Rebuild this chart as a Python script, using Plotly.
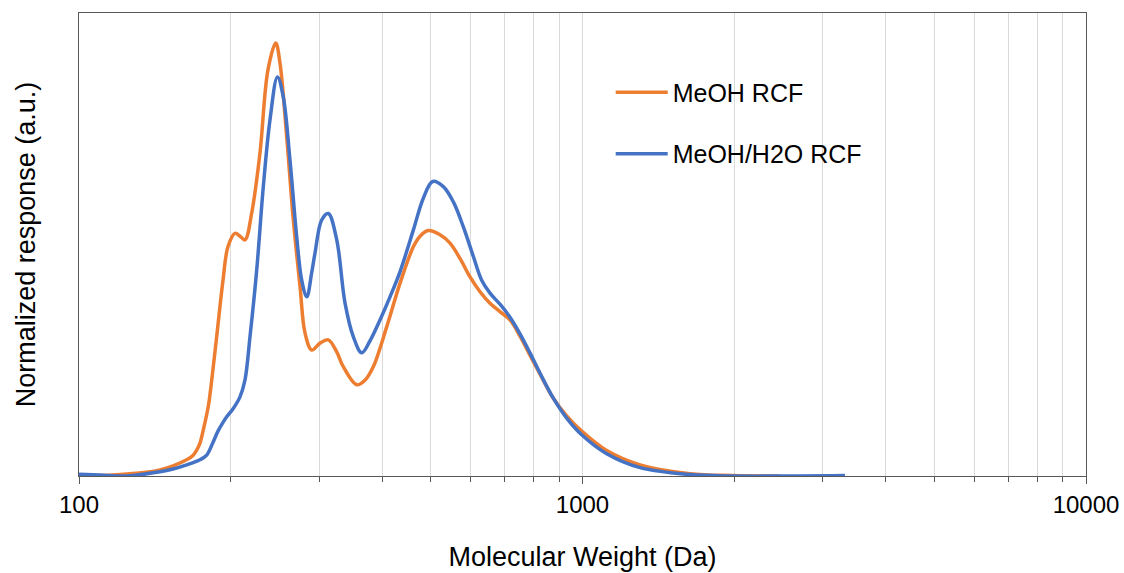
import plotly.graph_objects as go

# Molecular weight (Da) and normalized response
mw_meoh = [100, 110.1, 126.2, 144.8, 163.6, 168.6, 171.3, 173.9, 176.5, 180.6,
           183.5, 187.7, 193.2, 197.6, 204.1, 208.8, 213.6, 220.3, 228.8, 237.3,
           245.9, 250.7, 258.5, 266.5, 274.8, 281.1, 289.9, 301.1, 312.7, 325.0,
           334.9, 356.1, 369.8, 384.1, 408.4, 434.0, 461.3, 475.8, 494.0, 521.2,
           545.6, 571.1, 597.9, 625.8, 655.0, 685.6, 717.8, 751.4, 786.4, 823.6,
           875.0, 930.2, 996.3, 1117, 1301, 1635, 1991, 2468]
resp_meoh = [0.0, 0.001, 0.005, 0.013, 0.035, 0.045, 0.056, 0.071, 0.099, 0.150,
             0.207, 0.301, 0.423, 0.495, 0.524, 0.518, 0.510, 0.568, 0.698, 0.877,
             0.935, 0.892, 0.733, 0.553, 0.409, 0.309, 0.272, 0.287, 0.294, 0.268,
             0.236, 0.197, 0.207, 0.236, 0.322, 0.416, 0.495, 0.518, 0.530, 0.521,
             0.503, 0.470, 0.430, 0.398, 0.373, 0.355, 0.337, 0.302, 0.261, 0.220,
             0.168, 0.130, 0.097, 0.055, 0.024, 0.005, 0.001, 0.0]

mw_h2o = [100, 110.1, 124.4, 144.8, 153.7, 163.6, 173.9, 179.3, 184.8, 188.8,
          193.5, 196.5, 202.5, 208.8, 213.6, 218.6, 225.4, 232.3, 239.5, 247.8,
          254.5, 262.4, 270.6, 276.9, 283.4, 289.9, 294.3, 303.4, 312.7, 325.0,
          337.5, 350.6, 364.4, 378.4, 396.1, 414.7, 434.0, 461.3, 482.9, 504.1,
          529.1, 554.0, 579.9, 607.1, 630.6, 655.0, 685.6, 717.8, 751.4, 786.4,
          823.6, 875.0, 930.2, 996.3, 1117, 1301, 1635, 1991, 3321]
resp_h2o = [0.004, 0.002, 0.0, 0.009, 0.015, 0.024, 0.035, 0.045, 0.074, 0.097,
            0.117, 0.128, 0.146, 0.171, 0.207, 0.301, 0.445, 0.625, 0.769, 0.862,
            0.819, 0.683, 0.517, 0.423, 0.387, 0.440, 0.482, 0.553, 0.567, 0.510,
            0.374, 0.301, 0.266, 0.292, 0.337, 0.387, 0.441, 0.531, 0.600, 0.636,
            0.625, 0.592, 0.538, 0.474, 0.423, 0.395, 0.371, 0.343, 0.307, 0.266,
            0.222, 0.168, 0.125, 0.089, 0.048, 0.018, 0.003, 0.0, 0.001]

major_ticks = [100, 1000, 10000]
tick_labels = ["100", "1000", "10000"]
minor_ticks = [m * d for d in (100, 1000) for m in range(2, 10)]

FONT = "Arial, Liberation Sans, sans-serif"

fig = go.Figure()
fig.add_trace(go.Scatter(x=mw_meoh, y=resp_meoh, mode="lines", name="MeOH RCF",
                         legendgroup="a",
                         line=dict(color="#ED7D31", width=3.5, shape="spline", smoothing=1.0)))
fig.add_trace(go.Scatter(x=mw_h2o, y=resp_h2o, mode="lines", name="MeOH/H2O RCF",
                         legendgroup="b",
                         line=dict(color="#4472C4", width=3.5, shape="spline", smoothing=1.0)))

fig.update_layout(
    width=1124, height=573,
    margin=dict(l=79, r=38, t=13, b=97),
    paper_bgcolor="white", plot_bgcolor="white",
    font=dict(family=FONT, color="black"),
    showlegend=True,
    legend=dict(x=0.528, y=0.878, xanchor="left", yanchor="top",
                bgcolor="rgba(0,0,0,0)", font=dict(size=25, color="black"),
                tracegroupgap=26, itemwidth=52),
)
fig.update_xaxes(
    type="log", range=[2, 4],
    tickmode="array", tickvals=major_ticks, ticktext=tick_labels,
    ticks="outside", ticklen=7, tickcolor="#595959", tickwidth=1.3,
    tickfont=dict(size=24, color="black"),
    showgrid=True, gridcolor="#d9d9d9", gridwidth=1,
    minor=dict(tickvals=minor_ticks, ticks="outside", ticklen=5,
               tickcolor="#595959", showgrid=True, gridcolor="#d9d9d9", gridwidth=1),
    showline=True, linecolor="#595959", linewidth=1.3, mirror=True,
    zeroline=False,
    title=dict(text="Molecular Weight (Da)", font=dict(size=27, color="black"), standoff=30),
    automargin=False,
)
fig.update_yaxes(
    range=[0, 1], showticklabels=False, ticks="", showgrid=False, zeroline=False,
    showline=True, linecolor="#595959", linewidth=1.3, mirror=True,
    title=dict(text="Normalized response (a.u.)", font=dict(size=27, color="black"), standoff=34),
    automargin=False,
)

fig.write_html(
    "out.html",
    config={"displayModeBar": False},
    post_script="document.body.style.margin='0';document.body.style.overflow='hidden';",
)
